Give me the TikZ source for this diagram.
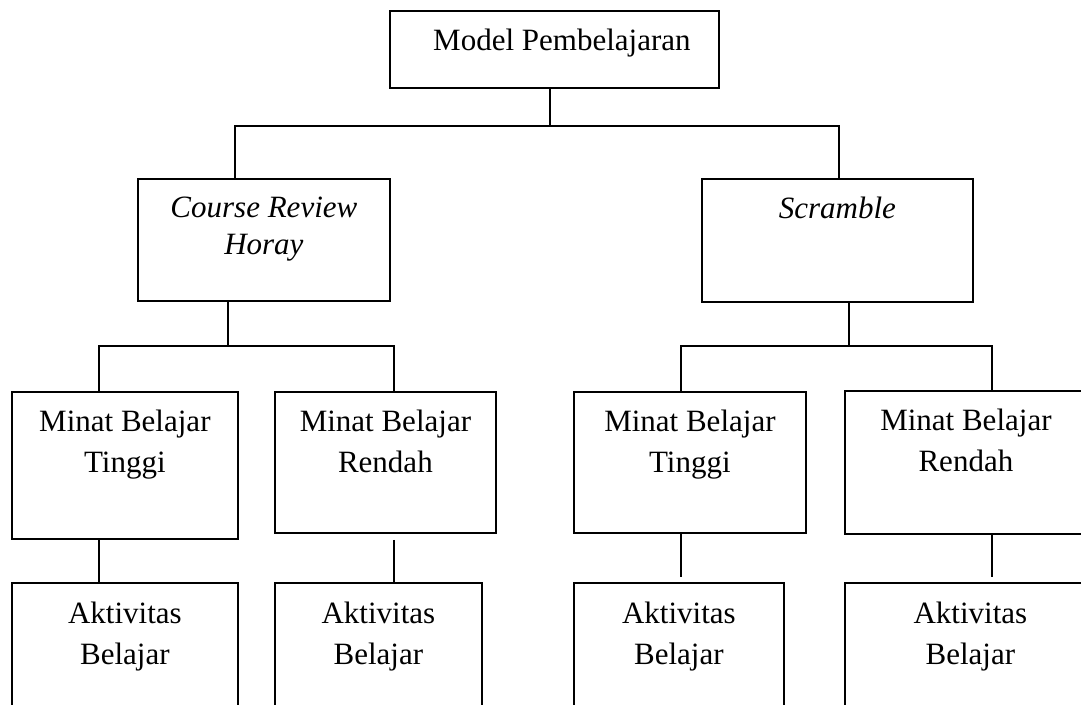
\documentclass[tikz,border=0pt]{standalone}
\usepackage{fontspec}
\setmainfont{Liberation Serif}
\usetikzlibrary{positioning}

\begin{document}
\begin{tikzpicture}[x=0.5pt, y=-0.5pt, line width=0.9pt,
	kotak/.style={draw, anchor=north west, inner sep=0pt},
	teks/.style={anchor=north, inner sep=0pt, align=center, font=\fontsize{15.5}{20.5}\selectfont}]
	\useasboundingbox (0,0) rectangle (1081,705);
	\clip (0,0) rectangle (1081,705);
	% tingkat 1: model
	\node[kotak, minimum width=164.5pt, minimum height=38.5pt] (model) at (389,10) {};
	\node[teks] (tmodel) at ([xshift=3.75pt, yshift=-9pt]model.north) {Model Pembelajaran};
	% tingkat 2: dua model
	\node[kotak, minimum width=126pt, minimum height=61pt] (crh) at (137,178) {};
	\node[teks, font=\fontsize{15.5}{18.5}\selectfont\itshape] (tcrh) at ([yshift=-9pt]crh.north) {Course Review\\Horay};
	\node[kotak, minimum width=135.5pt, minimum height=61.5pt] (scr) at (701,178) {};
	\node[teks, font=\fontsize{15.5}{18.5}\selectfont\itshape] (tscr) at ([yshift=-9pt]scr.north) {Scramble};
	% tingkat 3: minat belajar
	\node[kotak, minimum width=113pt, minimum height=73.5pt] (m1) at (11,391) {};
	\node[kotak, minimum width=110.5pt, minimum height=70.5pt] (m2) at (274,391) {};
	\node[kotak, minimum width=116pt, minimum height=70.5pt] (m3) at (573,391) {};
	\node[kotak, minimum width=121pt, minimum height=71.5pt] (m4) at (844,390) {};
	\foreach \m/\isi in {m1/Tinggi, m2/Rendah, m3/Tinggi, m4/Rendah}
		\node[teks] (t\m) at ([yshift=-9pt]\m.north) {Minat Belajar\\\isi};
	% tingkat 4: aktivitas belajar
	\node[kotak, minimum width=113pt, minimum height=80pt] (a1) at (11,582) {};
	\node[kotak, minimum width=103.5pt, minimum height=80pt] (a2) at (274,582) {};
	\node[kotak, minimum width=105pt, minimum height=80pt] (a3) at (573,582) {};
	\node[kotak, minimum width=125.5pt, minimum height=80pt] (a4) at (844,582) {};
	\foreach \a in {a1,a2,a3,a4}
		\node[teks] (t\a) at ([yshift=-9.5pt]\a.north) {Aktivitas\\Belajar};
	% garis penghubung
	\coordinate (j1) at (550,126);
	\coordinate (j2) at (228,346);
	\coordinate (j3) at (849,346);
	\draw (550,0 |- model.south) -- (j1);
	\draw (235,0 |- crh.north) |- (j1);
	\draw (839,0 |- scr.north) |- (j1);
	\draw (228,0 |- crh.south) -- (j2);
	\draw (99,0 |- m1.north) |- (j2);
	\draw (394,0 |- m2.north) |- (j2);
	\draw (849,0 |- scr.south) -- (j3);
	\draw (681,0 |- m3.north) |- (j3);
	\draw (992,0 |- m4.north) |- (j3);
	\foreach \m/\a/\x/\s/\e in {m1/a1/99/0/0, m2/a2/394/3/0, m3/a3/681/0/2.5, m4/a4/992/0/2.5}
		\draw[shorten <=\s pt, shorten >=\e pt] (\x,0 |- \m.south) -- (\x,0 |- \a.north);
\end{tikzpicture}
\end{document}
